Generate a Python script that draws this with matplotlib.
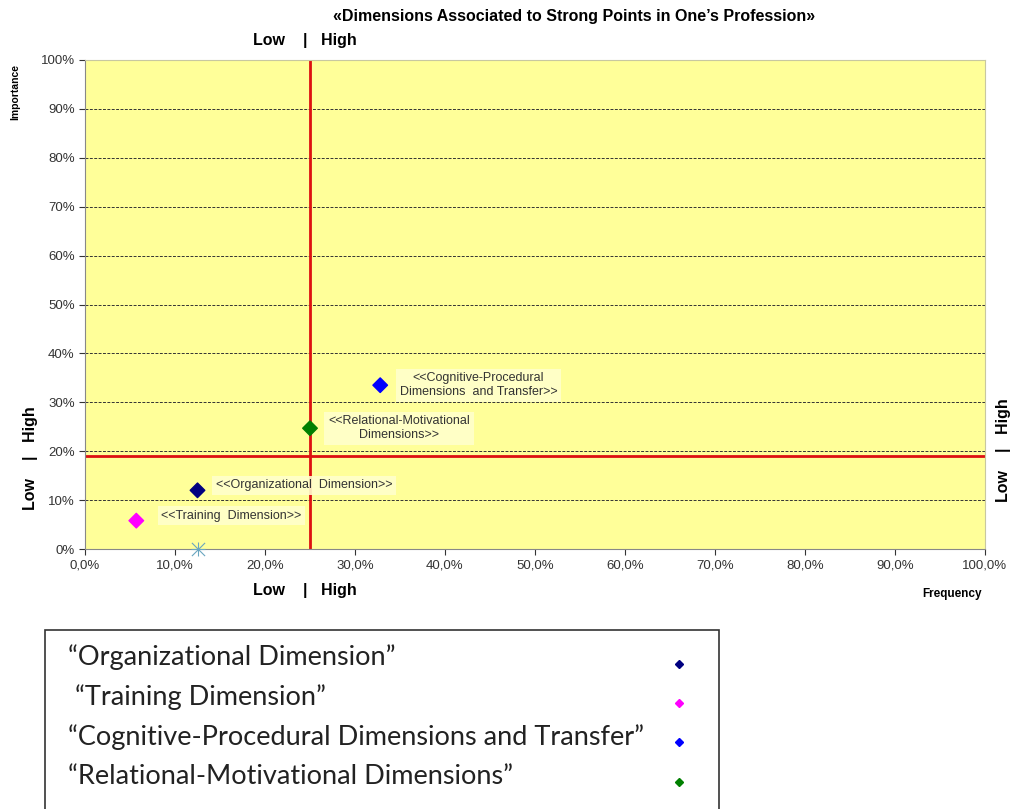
"""Quadrant scatter: dimensions associated to strong points in one's profession."""

import matplotlib

matplotlib.use("Agg")
import matplotlib.pyplot as plt
from matplotlib.patches import Rectangle
from matplotlib.ticker import FuncFormatter, MultipleLocator

# data (percent)
names = [
    "Organizational Dimension",
    "Training Dimension",
    "Cognitive-Procedural Dimensions and Transfer",
    "Relational-Motivational Dimensions",
]
annot = [
    "<<Organizational  Dimension>>",
    "<<Training  Dimension>>",
    "<<Cognitive-Procedural\nDimensions  and Transfer>>",
    "<<Relational-Motivational\nDimensions>>",
]
frequency = [12.5, 5.7, 32.8, 25.0]
importance = [12.0, 5.8, 33.5, 24.7]
colors = ["#000080", "#ff00ff", "#0000ff", "#008000"]
legend_labels = [
    "\u201cOrganizational Dimension\u201d",
    " \u201cTraining Dimension\u201d",
    "\u201cCognitive-Procedural Dimensions and Transfer\u201d",
    "\u201cRelational-Motivational Dimensions\u201d",
]
extra_x, extra_y = [12.5], [0.0]
cut_x, cut_y = 25.0, 19.0

plt.rcParams["font.family"] = ["Liberation Sans", "DejaVu Sans"]

fig = plt.figure(figsize=(10.13, 8.09), dpi=100)
ax = fig.add_axes([85 / 1013, 1 - 549 / 809, 900 / 1013, 489 / 809])
ax.set_facecolor("#ffff99")
ax.set_xlim(0, 100)
ax.set_ylim(0, 100)

ax.xaxis.set_major_locator(MultipleLocator(10))
ax.yaxis.set_major_locator(MultipleLocator(10))
ax.xaxis.set_major_formatter(FuncFormatter(lambda v, _: f"{v:.1f}%".replace(".", ",")))
ax.yaxis.set_major_formatter(FuncFormatter(lambda v, _: f"{v:.0f}%"))
ax.tick_params(labelsize=9.5, colors="#333333", length=4, direction="out")
for y in range(10, 100, 10):
    ax.axhline(y, color="#333333", lw=0.7, ls=(0, (3, 1.5)), zorder=1)

for side in ("top", "right"):
    ax.spines[side].set_color("#c8c8a0")
for side in ("left", "bottom"):
    ax.spines[side].set_color("#888888")

ax.axvline(cut_x, color="#dd1111", lw=2, zorder=2)
ax.axhline(cut_y, color="#dd1111", lw=2, zorder=2)

ax.scatter(frequency, importance, c=colors, marker="D", s=55, zorder=4)
ax.scatter(extra_x, extra_y, marker="x", c="#6aa6c0", s=90, lw=0.8, zorder=4, clip_on=False)
ax.scatter(extra_x, extra_y, marker="+", c="#6aa6c0", s=90, lw=0.8, zorder=4, clip_on=False)

offsets = [(13, 3.6), (18, 3.6), (14, 0), (13, 0)]
for x, y, txt, (dx, dy) in zip(frequency, importance, annot, offsets):
    ax.annotate(
        txt, (x, y), xytext=(dx, dy), textcoords="offset points",
        ha="left", va="center", fontsize=9, color="#333333", multialignment="center",
        bbox=dict(boxstyle="square,pad=0.3", fc="#ffffcc", ec="none", alpha=0.9),
        zorder=5,
    )

fig.text(574 / 1013, 1 - 17 / 809, "\u00abDimensions Associated to Strong Points in One\u2019s Profession\u00bb",
         ha="center", va="center", fontsize=11.5, fontweight="bold")
fig.text(305 / 1013, 1 - 41 / 809, "Low    |   High", ha="center", va="center",
         fontsize=11.5, fontweight="bold")
fig.text(305 / 1013, 1 - 590 / 809, "Low    |   High", ha="center", va="center",
         fontsize=11.5, fontweight="bold")
fig.text(952 / 1013, 1 - 594 / 809, "Frequency", ha="center", va="center",
         fontsize=8.5, fontweight="bold")
fig.text(15 / 1013, 1 - 92 / 809, "Importance", ha="center", va="center",
         fontsize=7.5, fontweight="bold", rotation=90)
fig.text(30 / 1013, 1 - 458 / 809, "Low    |   High", ha="center", va="center",
         fontsize=11.5, fontweight="bold", rotation=90)
fig.text(1003 / 1013, 1 - 450 / 809, "Low    |   High", ha="center", va="center",
         fontsize=11.5, fontweight="bold", rotation=90)

# legend box drawn as figure patch
fig.patches.append(Rectangle((45 / 1013, -0.01), 674 / 1013, 1 - 630 / 809 + 0.01,
                             transform=fig.transFigure, fill=False, ec="#333333", lw=1.2))
text_ys = [657, 697, 737, 776]
marker_ys = [664, 703, 742, 782]
for lbl, c, ty, my in zip(legend_labels, colors, text_ys, marker_ys):
    fig.text(68 / 1013, 1 - ty / 809, lbl, ha="left", va="center", fontsize=19.5,
             family=["Lato", "DejaVu Sans"], color="#222222")
    fig.lines.append(plt.Line2D([679 / 1013], [1 - my / 809], transform=fig.transFigure,
                                marker="D", ms=4.5, color=c, ls="none"))

fig.savefig("out.png", dpi=100)
